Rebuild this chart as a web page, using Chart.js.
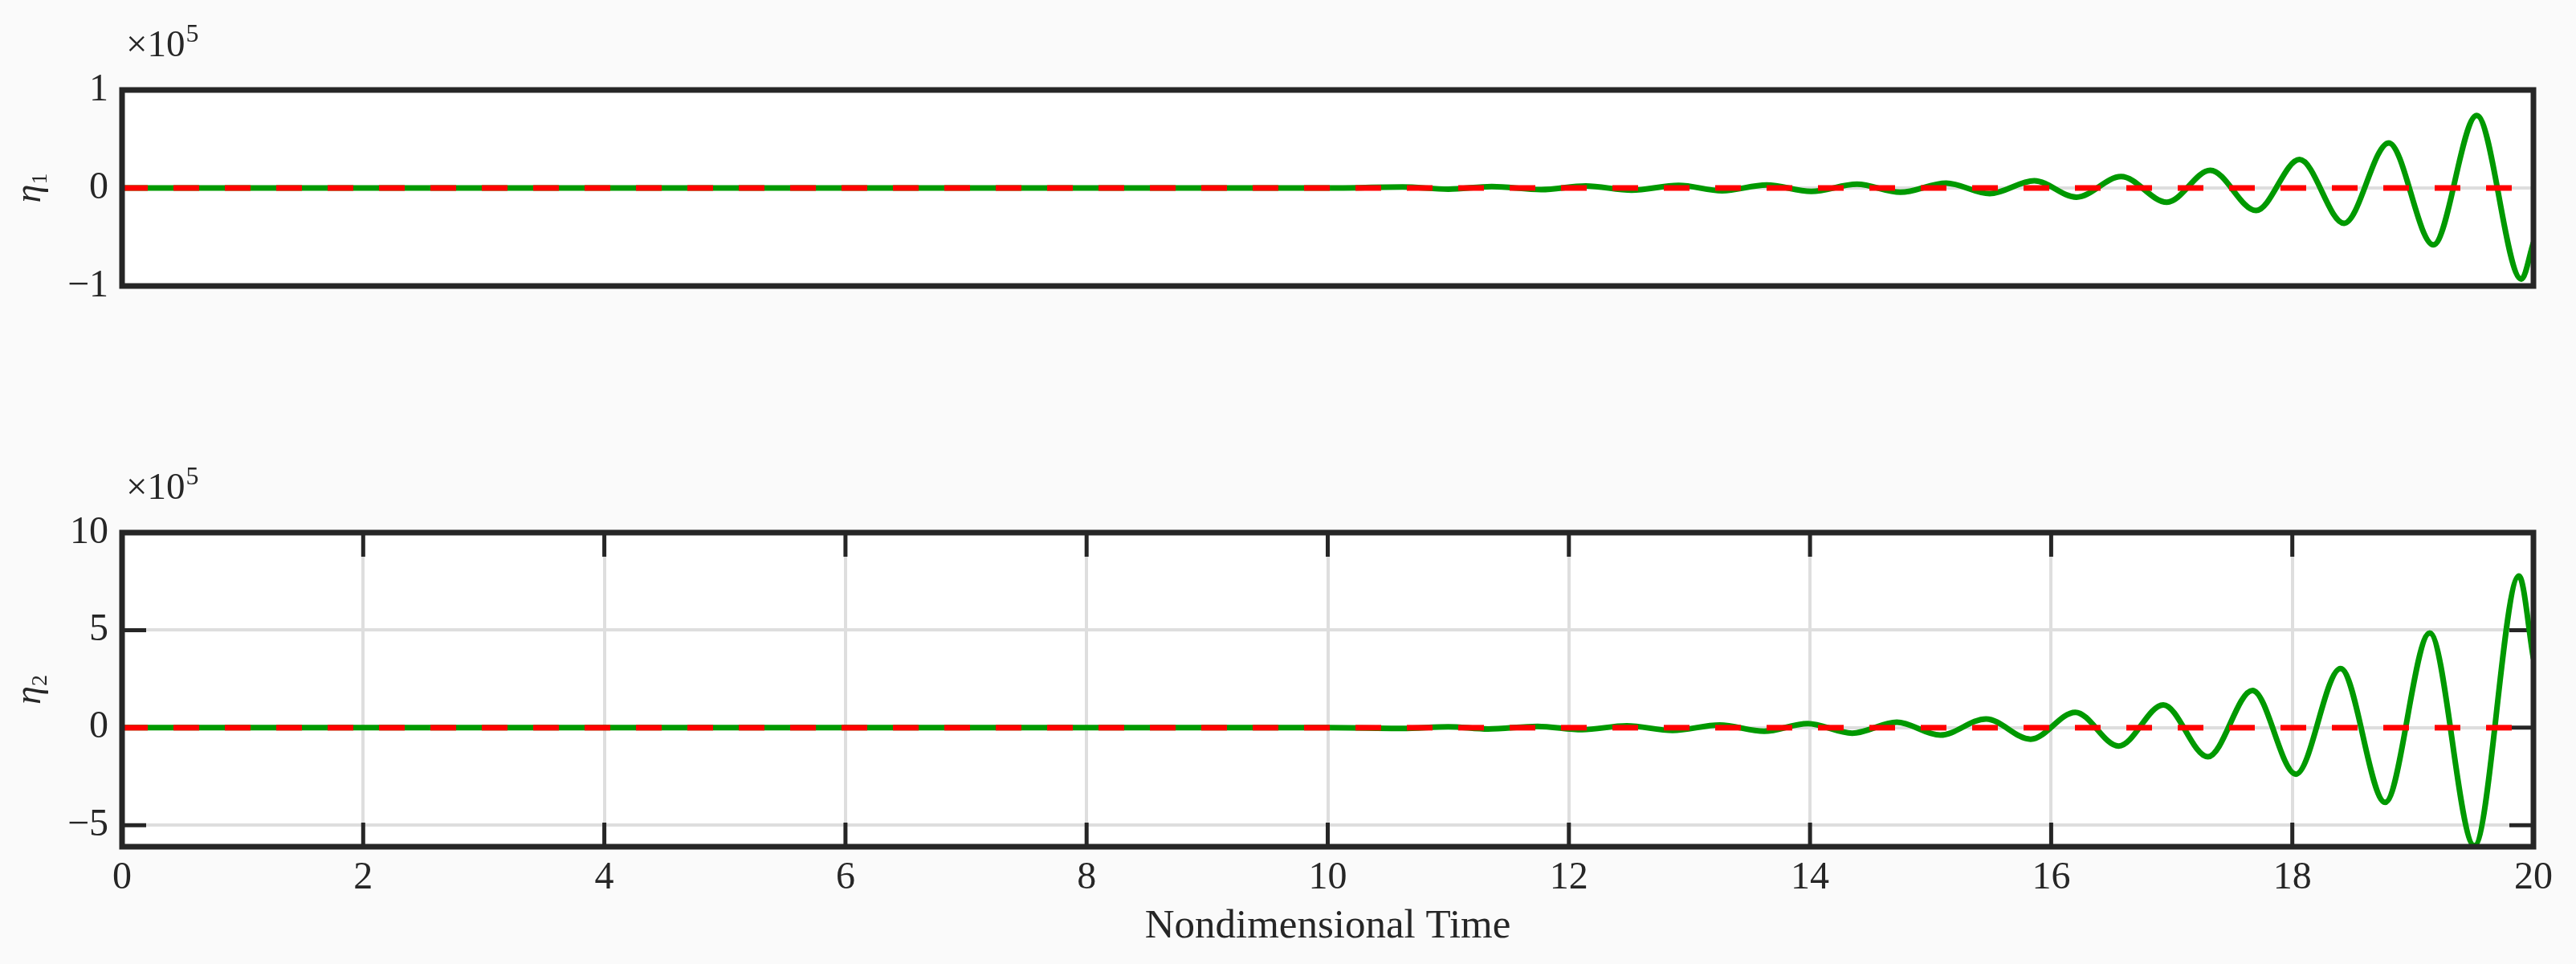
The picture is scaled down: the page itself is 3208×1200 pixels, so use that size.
<!DOCTYPE html>
<html>
<head>
<meta charset="utf-8">
<title>Modal amplitudes</title>
<script src="https://cdn.jsdelivr.net/npm/chart.js@4.4.1/dist/chart.umd.min.js"></script>
<style>
  html, body { margin: 0; padding: 0; background: #fafafa; }
  #wrap { position: relative; width: 3208px; height: 1200px; }
  canvas { position: absolute; left: 0; }
  #topChart { top: 0; }
  #bottomChart { top: 560px; }
</style>
</head>
<body>
<div id="wrap">
  <canvas id="topChart" width="3208" height="560"></canvas>
  <canvas id="bottomChart" width="3208" height="640"></canvas>
</div>
<script>
// values, amplitudes in units of 1e5
const timeTicks = [0, 2, 4, 6, 8, 10, 12, 14, 16, 18, 20];
const eta1Ticks = [-1, 0, 1];
const eta2Ticks = [-5, 0, 5, 10];
const baselineTime = [0, 20];
const baselineValue = [0, 0];

const eta1Time = [0, 10.0, 10.62, 11.0, 11.36, 11.77, 12.14, 12.52, 12.91, 13.27, 13.64, 14.01, 14.39, 14.75,
  15.13, 15.49, 15.86, 16.21, 16.58, 16.96, 17.32, 17.70, 18.06, 18.43, 18.80, 19.17, 19.53, 19.90, 20.0];
const eta1Value = [0, 0, 0.01, -0.012, 0.015, -0.017, 0.02, -0.022, 0.026, -0.028, 0.031, -0.035, 0.038, -0.044,
  0.05, -0.057, 0.074, -0.094, 0.116, -0.145, 0.18, -0.23, 0.29, -0.36, 0.46, -0.58, 0.74, -0.93, -0.556];

const eta2Time = [0, 10.0, 10.62, 11.0, 11.33, 11.74, 12.11, 12.48, 12.86, 13.25, 13.62, 13.98, 14.35, 14.72,
  15.08, 15.46, 15.83, 16.20, 16.56, 16.93, 17.30, 17.67, 18.03, 18.40, 18.77, 19.14, 19.51, 19.88, 20.0];
const eta2Value = [0, 0, -0.04, 0.05, -0.07, 0.07, -0.1, 0.1, -0.14, 0.14, -0.18, 0.21, -0.28, 0.28,
  -0.38, 0.45, -0.59, 0.79, -0.94, 1.17, -1.49, 1.91, -2.38, 3.03, -3.83, 4.85, -6.05, 7.78, 3.54];

const ink = "#262626";
const gridGrey = "#dedede";
const serif = "'Liberation Serif', 'DejaVu Serif', serif";

const pairs = (xs, ys) => xs.map((x, i) => ({ x, y: ys[i] }));

function plotDecor(opts) {
  return {
    id: "plotDecor",
    beforeDraw(chart) {
      const { ctx, chartArea: a } = chart;
      ctx.save();
      ctx.fillStyle = "#ffffff";
      ctx.fillRect(a.left, a.top, a.right - a.left, a.bottom - a.top);
      ctx.restore();
    },
    beforeDatasetsDraw(chart) {
      if (!opts.ticks) return;
      const { ctx, chartArea: a, scales } = chart;
      const len = 30;
      ctx.save();
      ctx.strokeStyle = ink;
      ctx.lineWidth = 5;
      ctx.beginPath();
      timeTicks.forEach((t) => {
        const px = scales.x.getPixelForValue(t);
        ctx.moveTo(px, a.top); ctx.lineTo(px, a.top + len);
        ctx.moveTo(px, a.bottom); ctx.lineTo(px, a.bottom - len);
      });
      opts.yTicks.forEach((v) => {
        const py = scales.y.getPixelForValue(v);
        ctx.moveTo(a.left, py); ctx.lineTo(a.left + len, py);
        ctx.moveTo(a.right, py); ctx.lineTo(a.right - len, py);
      });
      ctx.stroke();
      ctx.restore();
    },
    afterDraw(chart) {
      const { ctx, chartArea: a } = chart;
      ctx.save();
      ctx.strokeStyle = ink;
      ctx.lineWidth = 7;
      ctx.strokeRect(a.left, a.top, a.right - a.left, a.bottom - a.top);

      // x10^5 exponent label
      ctx.fillStyle = ink;
      ctx.textAlign = "left";
      ctx.textBaseline = "alphabetic";
      ctx.font = `47px ${serif}`;
      ctx.fillText("×10", 157, opts.expBase);
      const w = ctx.measureText("×10").width;
      ctx.font = `32px ${serif}`;
      ctx.fillText("5", 157 + w + 1, opts.expBase - 18);

      // rotated eta label
      const cy = (a.top + a.bottom) / 2;
      ctx.translate(44, cy);
      ctx.rotate(-Math.PI / 2);
      ctx.font = `italic 46px ${serif}`;
      const wEta = ctx.measureText("η").width;
      ctx.font = `28px ${serif}`;
      const wSub = ctx.measureText(opts.sub).width;
      const x0 = -(wEta + wSub) / 2;
      ctx.font = `italic 46px ${serif}`;
      ctx.fillText("η", x0, 6);
      ctx.font = `28px ${serif}`;
      ctx.fillText(opts.sub, x0 + wEta, 14);
      ctx.restore();
    }
  };
}

function tickText(v) {
  return v < 0 ? "\u2212" + Math.abs(v) : String(v);
}

function modeChart(id, cfg) {
  return new Chart(document.getElementById(id), {
    type: "line",
    data: {
      datasets: [
        { data: pairs(baselineTime, baselineValue), borderColor: "#ff0000", borderWidth: 7, borderDash: [32, 32], pointRadius: 0 },
        { data: pairs(cfg.time, cfg.values), borderColor: "#009900", borderWidth: 7, pointRadius: 0, cubicInterpolationMode: "monotone" }
      ]
    },
    options: {
      responsive: false,
      devicePixelRatio: 1,
      animation: false,
      events: [],
      layout: { padding: cfg.padding },
      plugins: { legend: { display: false }, tooltip: { enabled: false } },
      scales: {
        x: {
          type: "linear",
          min: 0,
          max: 20,
          display: cfg.showX,
          afterBuildTicks: (axis) => { axis.ticks = timeTicks.map((value) => ({ value })); },
          afterFit: (axis) => { axis.height = 146; },
          grid: { color: gridGrey, lineWidth: 4, drawTicks: false },
          border: { display: false },
          ticks: { color: ink, font: { family: serif, size: 48 }, padding: 11, maxRotation: 0 },
          title: { display: true, text: "Nondimensional Time", color: ink, font: { family: serif, size: 51 }, padding: { top: 0, bottom: 16 } }
        },
        y: {
          min: cfg.min,
          max: cfg.max,
          afterBuildTicks: (axis) => { axis.ticks = cfg.yTicks.map((value) => ({ value })); },
          afterFit: (axis) => { axis.width = 152; },
          grid: {
            color: (c) => (cfg.fullGrid || c.tick.value === 0 ? gridGrey : "rgba(0,0,0,0)"),
            lineWidth: 4,
            drawTicks: false
          },
          border: { display: false },
          ticks: { color: ink, font: { family: serif, size: 48 }, padding: 17, callback: tickText }
        }
      }
    },
    plugins: [plotDecor({ ticks: cfg.fullGrid, yTicks: cfg.yTicks.filter((v) => v > cfg.min && v < cfg.max), expBase: cfg.expBase, sub: cfg.sub })]
  });
}

modeChart("topChart", {
  time: eta1Time, values: eta1Value, yTicks: eta1Ticks, min: -1, max: 1,
  showX: false, fullGrid: false, padding: { top: 112, right: 53, bottom: 58, left: 0 },
  expBase: 70, sub: "1"
});

modeChart("bottomChart", {
  time: eta2Time, values: eta2Value, yTicks: eta2Ticks, min: -6.1, max: 10,
  showX: true, fullGrid: true, padding: { top: 103, right: 53, bottom: 0, left: 0 },
  expBase: 61, sub: "2"
});
</script>
</body>
</html>
